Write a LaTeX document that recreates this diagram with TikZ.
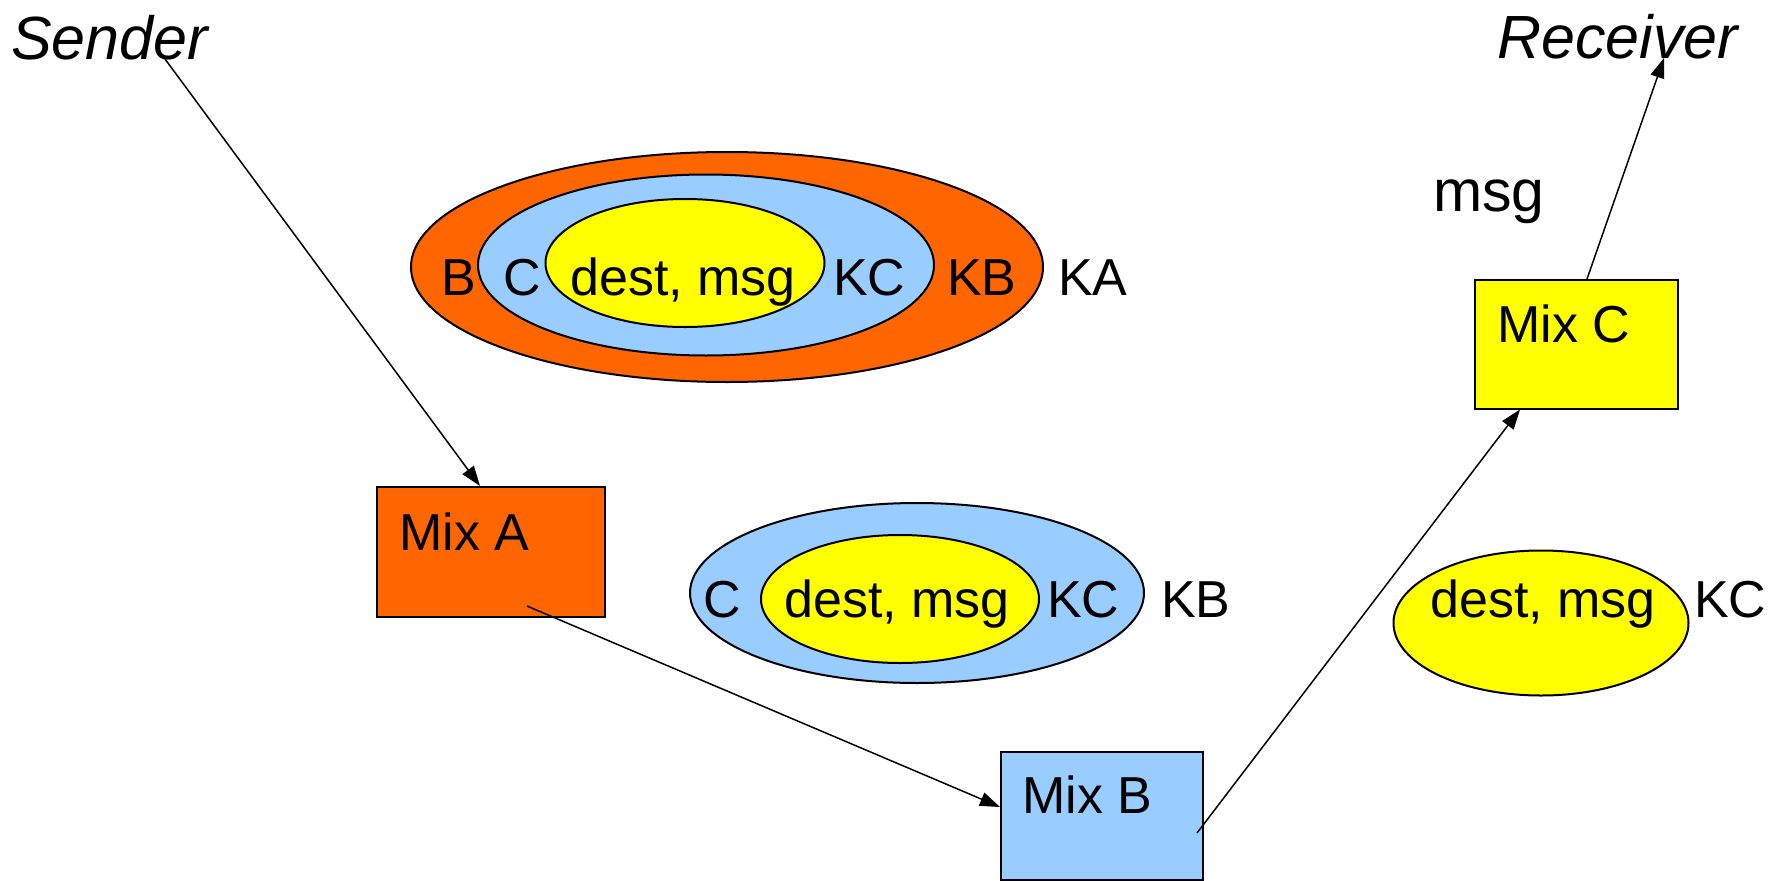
\documentclass[tikz,border=0pt]{standalone}
\usepackage{fontspec}
\setmainfont{Liberation Sans}
\usetikzlibrary{shapes.geometric,arrows.meta,calc}
\definecolor{orangeA}{HTML}{FF6600}
\definecolor{blueB}{HTML}{99CCFF}
\definecolor{yellowC}{HTML}{FFFF00}
\tikzset{
  lbl/.style={inner sep=0pt, anchor=base west, font=\fontsize{52}{60}\selectfont},
  ital/.style={inner sep=0pt, anchor=base west, font=\fontsize{61}{70}\selectfont\itshape},
  ell/.style={ellipse, draw=black, line width=2pt, inner sep=0pt},
  boxn/.style={rectangle, draw=black, line width=1.5pt, inner sep=0pt, anchor=north west},
  arr/.style={line width=1.5pt, -{Triangle[length=20pt,width=14pt]}},
}
\begin{document}
\begin{tikzpicture}[x=1pt,y=-1pt]
\useasboundingbox (0,0) rectangle (1773,881);
% top nested message
\node[ell, fill=orangeA, minimum width=632, minimum height=230] (oA) at (727,267) {};
\node[ell, fill=blueB, minimum width=456, minimum height=181] (oB) at (706,265) {};
\node[ell, fill=yellowC, minimum width=279, minimum height=128] (oC) at (685,263) {};
\node[lbl] (tB) at (441,295) {B};
\node[lbl] (tC) at (503,295) {C};
\node[lbl] (tD) at (570,295) {dest, msg};
\node[lbl] (tKC) at (833,295) {KC};
\node[lbl] (tKB) at (947,295) {KB};
\node[lbl] (tKA) at (1058,295) {KA};
% middle message
\node[ell, fill=blueB, minimum width=454, minimum height=180] (mB) at (917,593) {};
\node[ell, fill=yellowC, minimum width=278, minimum height=128] (mC) at (900,599) {};
\node[lbl] (mtC) at (703,617) {C};
\node[lbl] (mtD) at (784,617) {dest, msg};
\node[lbl] (mtKC) at (1047,617) {KC};
\node[lbl] (mtKB) at (1161,617) {KB};
% right message
\node[ell, fill=yellowC, minimum width=295, minimum height=145] (rC) at (1541,623) {};
\node[lbl] (rtD) at (1430,617) {dest, msg};
\node[lbl] (rtKC) at (1694,617) {KC};
% msg
\node[lbl, font=\fontsize{59}{68}\selectfont] (msg) at (1433,211) {msg};
% endpoints
\node[ital] (sender) at (11,59) {Sender};
\node[ital] (receiver) at (1497,58) {Receiver};
% mixes
\node[boxn, fill=orangeA, minimum width=228, minimum height=130] (mixA) at (376,486) {};
\node[boxn, fill=blueB, minimum width=202, minimum height=128] (mixB) at (1000,751) {};
\node[boxn, fill=yellowC, minimum width=203, minimum height=129] (mixC) at (1474,279) {};
\node[lbl] (lA) at (399,550) {Mix A};
\node[lbl] (lB) at (1022,813) {Mix B};
\node[lbl] (lC) at (1497,342) {Mix C};
% connector end points
\coordinate (s0) at ($(sender.base west)+(154,0)$);
\coordinate (a0) at ($(mixA.north west)+(104,0)$);
\coordinate (a1) at ($(mixA.north west)+(151,120)$);
\coordinate (b0) at ($(mixB.north west)+(0,56)$);
\coordinate (b1) at ($(mixB.north west)+(197,82)$);
\coordinate (c0) at ($(mixC.south west)+(46,0)$);
\coordinate (c1) at ($(mixC.north west)+(113,0)$);
\coordinate (r0) at ($(receiver.base west)+(167,0)$);
\draw[arr] (s0) -- (a0);
\draw[arr] (a1) -- (b0);
\draw[arr] (b1) -- (c0);
\draw[arr] (c1) -- (r0);
\end{tikzpicture}
\end{document}
